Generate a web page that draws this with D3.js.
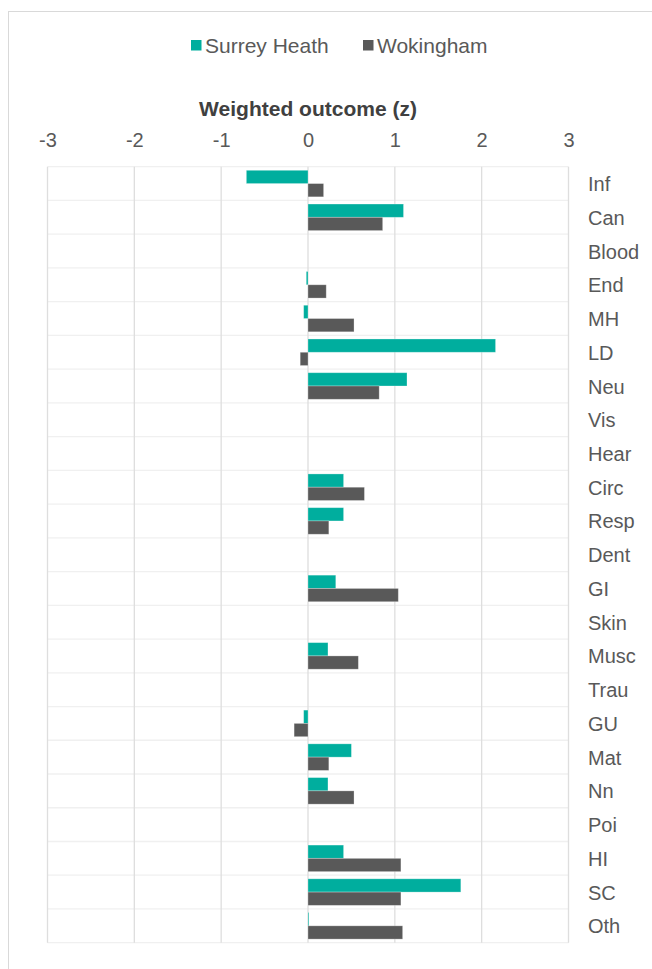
<!DOCTYPE html>
<html>
<head>
<meta charset="utf-8">
<script src="https://cdn.jsdelivr.net/npm/d3@7"></script>
<style>
  body { margin: 0; background: #fff; }
  text { font-family: "Liberation Sans", Arial, sans-serif; }
</style>
</head>
<body>
<svg id="myGraph" width="652" height="969"></svg>
<script>
// data
var categories = ["Inf","Can","Blood","End","MH","LD","Neu","Vis","Hear","Circ","Resp","Dent","GI","Skin","Musc","Trau","GU","Mat","Nn","Poi","HI","SC","Oth"];
var surreyHeath = [-0.71, 1.10, null, -0.02, -0.05, 2.16, 1.14, null, null, 0.41, 0.41, null, 0.32, null, 0.23, null, -0.05, 0.50, 0.23, null, 0.41, 1.76, 0.01];
var wokingham = [0.18, 0.86, null, 0.21, 0.53, -0.09, 0.82, null, null, 0.65, 0.24, null, 1.04, null, 0.58, null, -0.16, 0.24, 0.53, null, 1.07, 1.07, 1.09];
var seriesNames = ["Surrey Heath", "Wokingham"];
var tickValues = [-3, -2, -1, 0, 1, 2, 3];

var colors = ["#00ae9e", "#595959"];

var svg = d3.select("#myGraph");

// plot area  (note: "top" is reserved on window, so plotTop etc.)
var plotLeft = 47.5, plotRight = 568.5, plotTop = 166.7, plotBottom = 942.7;

// outer chart border
svg.append("rect")
  .attr("x", 8.5).attr("y", 11.5)
  .attr("width", 700).attr("height", 1000)
  .attr("fill", "none").attr("stroke", "#d9d9d9");

var x = d3.scaleLinear().domain([-3, 3]).range([plotLeft, plotRight]);
var y = d3.scaleBand().domain(categories).range([plotTop, plotBottom]).padding(0);
var y1 = d3.scaleBand().domain(seriesNames).range([0, y.bandwidth()]).paddingOuter(0.27).paddingInner(0);

// horizontal category lines
svg.append("g").selectAll("line")
  .data(categories.concat(["_end"]))
  .enter().append("line")
  .attr("x1", plotLeft).attr("x2", plotRight)
  .attr("y1", function(d, i){ return plotTop + i * y.step(); })
  .attr("y2", function(d, i){ return plotTop + i * y.step(); })
  .attr("stroke", "#f0f0f0").attr("stroke-width", 1.3);

// vertical value gridlines
svg.append("g").selectAll("line")
  .data(tickValues)
  .enter().append("line")
  .attr("x1", function(d){ return x(d); })
  .attr("x2", function(d){ return x(d); })
  .attr("y1", plotTop).attr("y2", plotBottom)
  .attr("stroke", "#dedede").attr("stroke-width", 1.3);

// top axis tick labels
var xAxis = d3.axisTop(x).tickValues(tickValues).tickSize(0).tickPadding(0)
  .tickFormat(function(d){ return d; });
var axisG = svg.append("g")
  .attr("transform", "translate(0,147)")
  .call(xAxis);
axisG.select(".domain").remove();
axisG.selectAll("text")
  .attr("font-family", "Liberation Sans, Arial, sans-serif")
  .attr("font-size", 20)
  .attr("fill", "#595959")
  .attr("dy", 0);

// axis title
svg.append("text")
  .attr("x", (plotLeft + plotRight) / 2).attr("y", 116)
  .attr("text-anchor", "middle")
  .attr("font-size", 21).attr("font-weight", "bold")
  .attr("fill", "#404040")
  .text("Weighted outcome (z)");

// bars
var seriesData = [surreyHeath, wokingham];
seriesData.forEach(function(vals, s){
  svg.append("g").selectAll("rect")
    .data(vals.map(function(v, i){ return {c: categories[i], v: v}; }).filter(function(d){ return d.v !== null; }))
    .enter().append("rect")
    .attr("x", function(d){ return x(Math.min(0, d.v)); })
    .attr("width", function(d){ return Math.abs(x(d.v) - x(0)); })
    .attr("y", function(d){ return y(d.c) + y1(seriesNames[s]); })
    .attr("height", y1.bandwidth())
    .attr("fill", colors[s])
    .attr("stroke", "#ffffff").attr("stroke-opacity", 0.35).attr("stroke-width", 0.8);
});

// category labels on the right
svg.append("g").selectAll("text")
  .data(categories)
  .enter().append("text")
  .attr("x", 588)
  .attr("y", function(d){ return y(d) + y.bandwidth() / 2 + 7.5; })
  .attr("font-size", 20)
  .attr("fill", "#595959")
  .text(function(d){ return d; });

// legend
var legendX = [191, 363];
seriesNames.forEach(function(name, i){
  svg.append("rect")
    .attr("x", legendX[i]).attr("y", 40)
    .attr("width", 10.5).attr("height", 10.5)
    .attr("fill", colors[i]);
  svg.append("text")
    .attr("x", legendX[i] + 14).attr("y", 52.5)
    .attr("font-size", 21)
    .attr("fill", "#595959")
    .text(name);
});
</script>
</body>
</html>
